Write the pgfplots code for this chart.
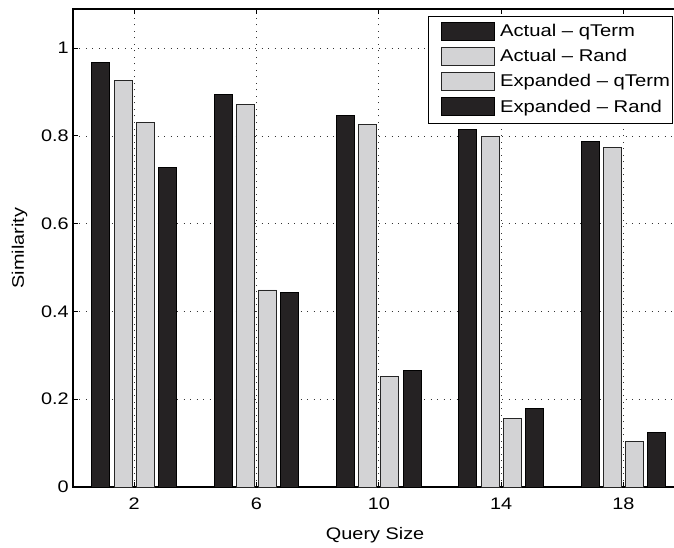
\documentclass[border=0pt]{standalone}
\usepackage{fontspec}
\setmainfont{Liberation Sans}[FakeStretch=1.19]
\usepackage{pgfplots}
\pgfplotsset{compat=1.18}
\definecolor{darkbar}{HTML}{252223}
\definecolor{lightbar}{HTML}{D3D3D5}
\pgfplotsset{
  mylegend/.style={legend image code/.code={\path (0pt,0pt) (68pt,0pt); \draw[##1] (11pt,-9pt) rectangle (64pt,9pt);}},
  mylegendlast/.style={legend image code/.code={\path (0pt,-11pt) (68pt,0pt); \draw[##1] (11pt,-9pt) rectangle (64pt,9pt);}},
}
\begin{document}
\begin{tikzpicture}
\begin{axis}[
  name=ax,
  scale only axis,
  width=611.6pt, height=478pt,
  xmin=0, xmax=20, ymin=0, ymax=1.089,
  xtick={2,6,10,14,18},
  ytick={0,0.2,0.4,0.6,0.8,1},
  yticklabels={0,0.2,0.4,0.6,0.8,1},
  tick align=inside,
  major tick length=5pt,
  axis line style={line width=1.2pt},
  every tick/.style={black, line width=0.8pt},
  grid=major,
  major grid style={black!80, line width=0.7pt, dash pattern=on 1pt off 5.5pt},
  tick label style={font=\fontsize{16.7}{19}\selectfont},
  yticklabel style={inner sep=0pt, anchor=east, xshift=-4pt},
  xticklabel style={inner sep=0pt, anchor=north, yshift=-11pt},
  /pgf/number format/assume math mode=true,
  label style={font=\fontsize{16.7}{19}\selectfont},
  xlabel={Query Size},
  ylabel={Similarity},
  xlabel style={at={(axis description cs:0.494,0)}, anchor=base, yshift=-52pt},
  ylabel style={at={(axis description cs:0,0.5)}, anchor=base, yshift=49pt},
  legend style={at={(0.981,0.9854)}, anchor=north east, draw=black, line width=1.2pt,
    font=\fontsize{17}{19}\selectfont, inner xsep=1.5pt, inner ysep=5pt, row sep=6.5pt,
    nodes={inner sep=1pt}, cells={anchor=west}},
  legend cell align=left,
]
\addplot[ybar, bar width=0.59, bar shift=-1.09, fill=darkbar, draw=black, line width=0.8pt, mylegend]
  coordinates {(2,0.968) (6,0.895) (10,0.846) (14,0.815) (18,0.787)};
\addlegendentry{Actual – qTerm}
\addplot[ybar, bar width=0.59, bar shift=-0.36, fill=lightbar, draw=black!85, line width=0.8pt, mylegend]
  coordinates {(2,0.927) (6,0.872) (10,0.827) (14,0.799) (18,0.773)};
\addlegendentry{Actual – Rand}
\addplot[ybar, bar width=0.59, bar shift=0.36, fill=lightbar, draw=black!85, line width=0.8pt, mylegend]
  coordinates {(2,0.830) (6,0.449) (10,0.251) (14,0.156) (18,0.104)};
\addlegendentry{Expanded – qTerm}
\addplot[ybar, bar width=0.59, bar shift=1.09, fill=darkbar, draw=black, line width=0.8pt, mylegendlast]
  coordinates {(2,0.727) (6,0.443) (10,0.266) (14,0.178) (18,0.124)};
\addlegendentry{Expanded – Rand}
\end{axis}
\path (ax.south west) ++(-73pt,-60pt) coordinate (bl);
\path (ax.north west) ++(601pt,9pt) coordinate (tr);
\pgfresetboundingbox
\useasboundingbox (bl) rectangle (tr);
\end{tikzpicture}
\end{document}
